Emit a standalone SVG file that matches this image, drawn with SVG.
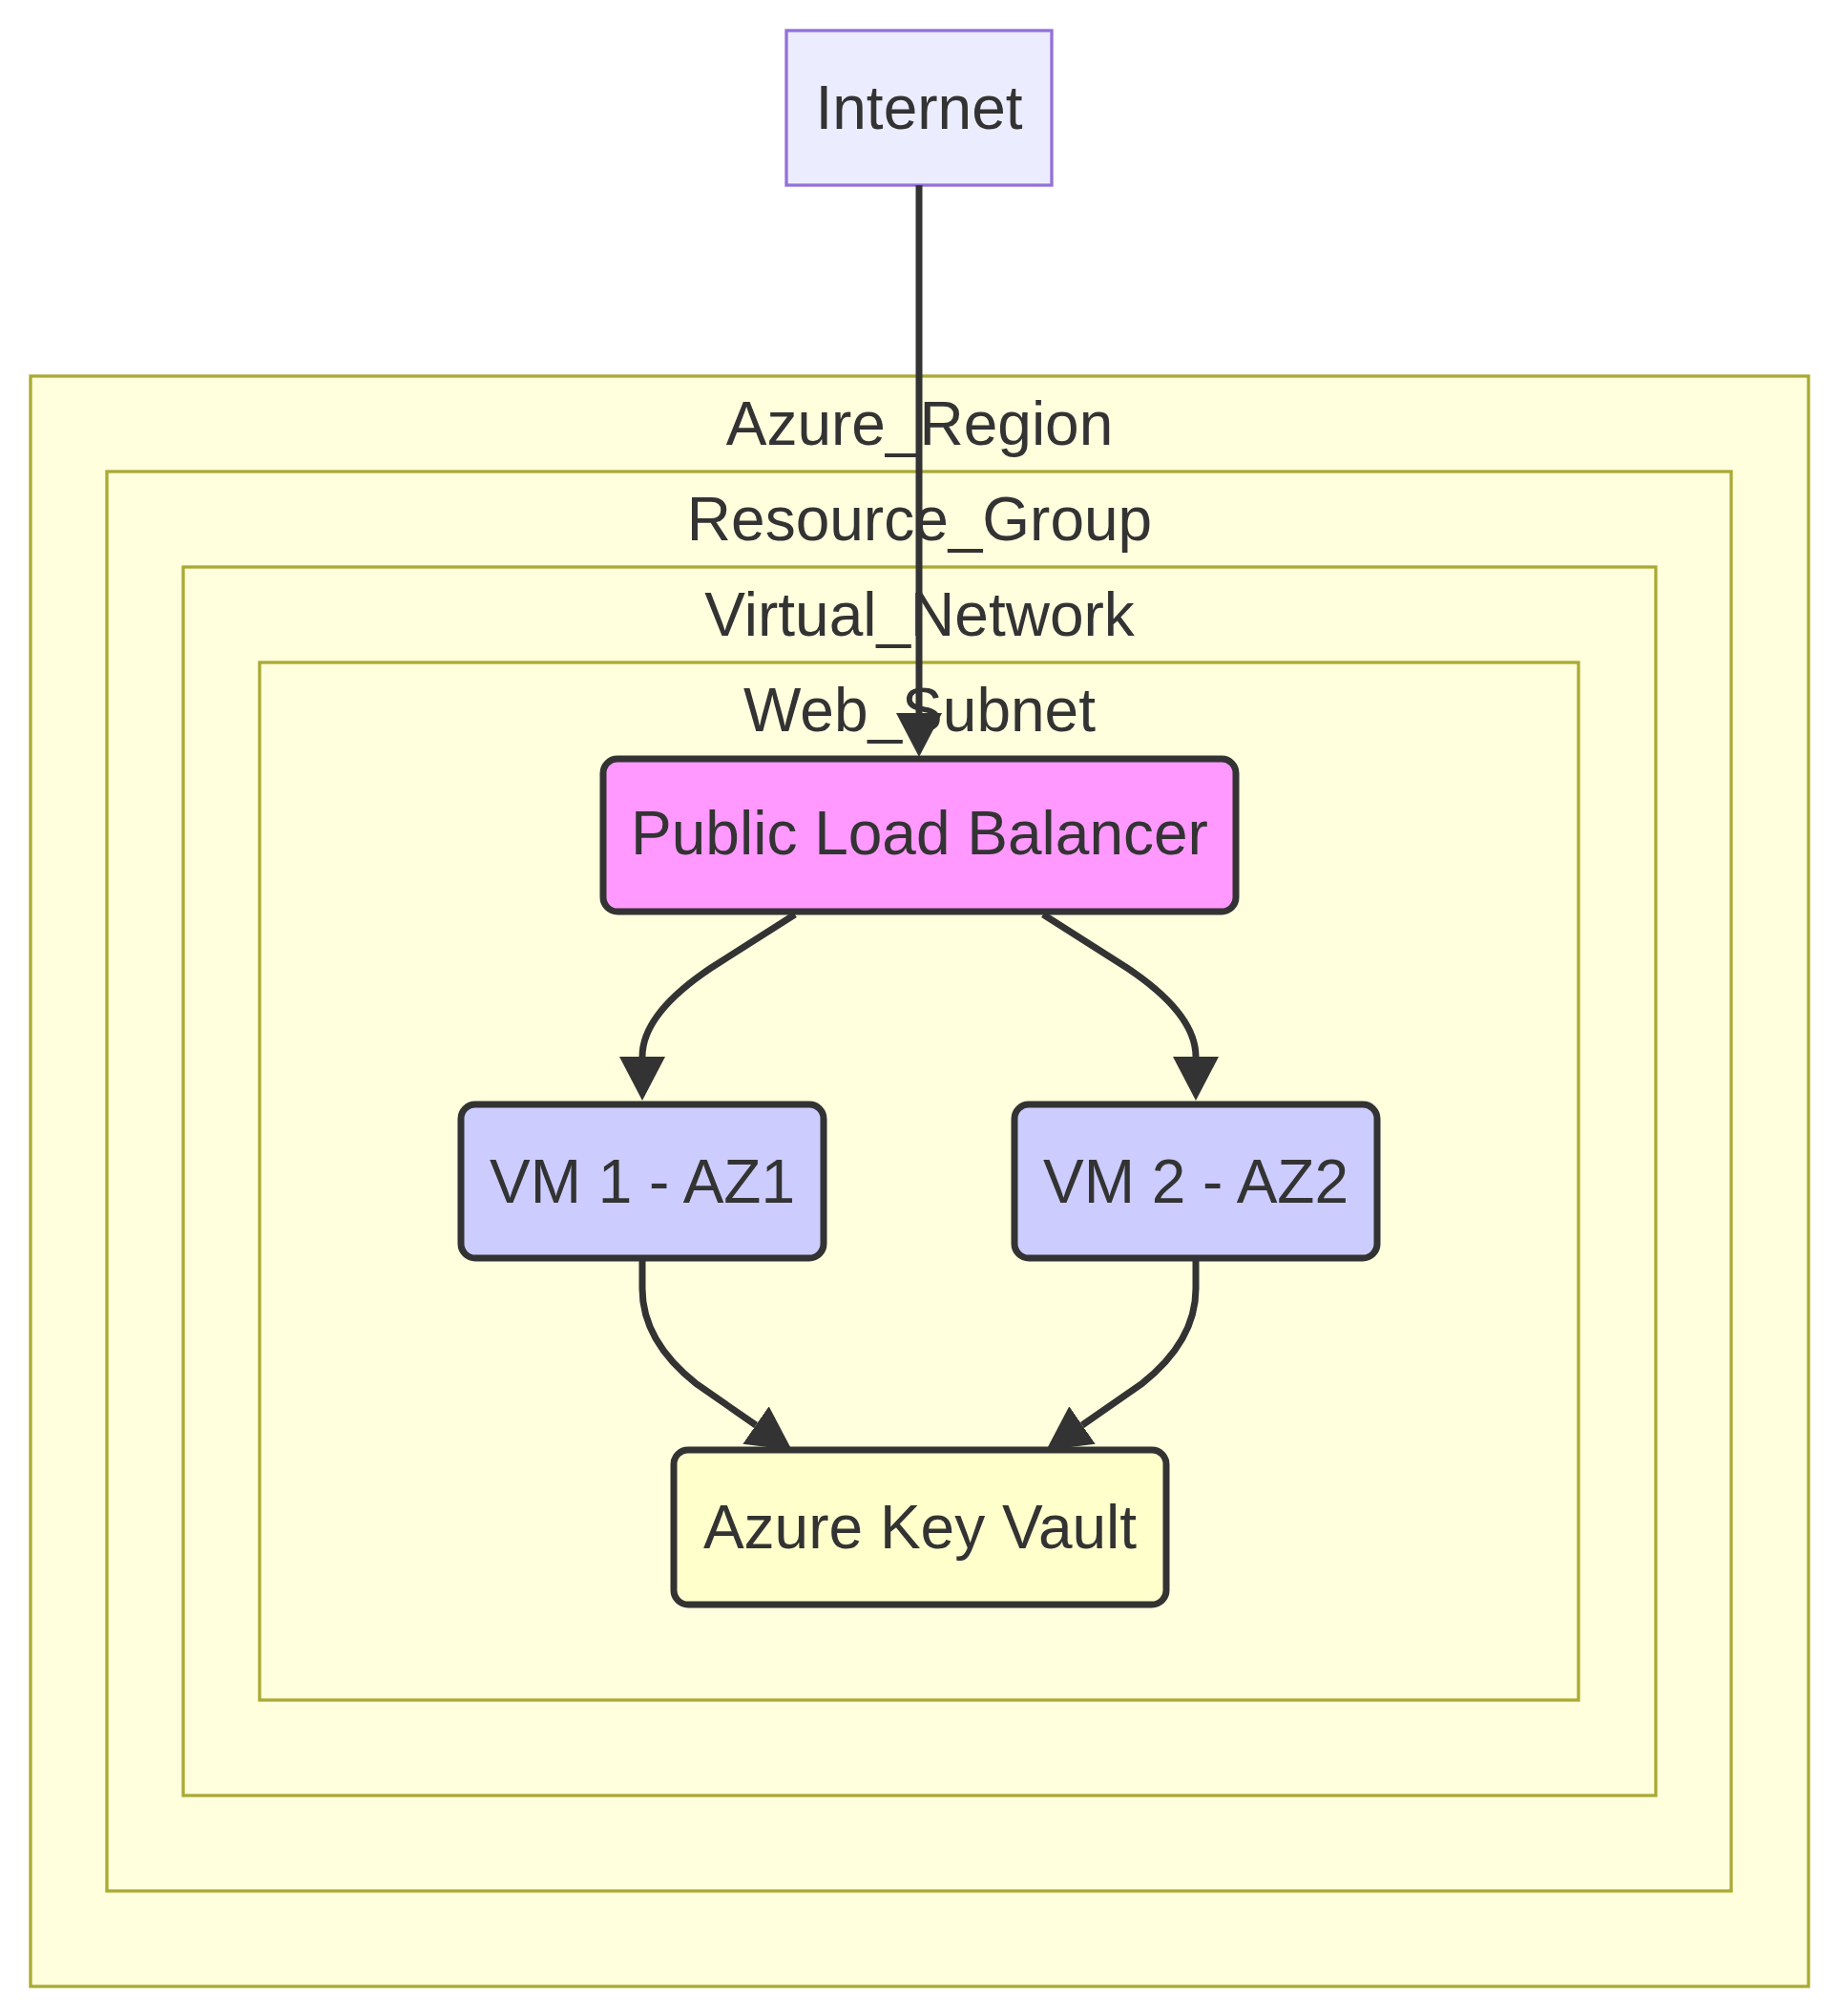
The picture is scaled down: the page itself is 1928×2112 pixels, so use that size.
<svg xmlns="http://www.w3.org/2000/svg" width="1928" height="2112" viewBox="0 0 1928 2112">
<style>
  .cluster rect { fill: #ffffde; stroke: #aaaa33; stroke-width: 3.3; }
  .lbl { font-family: "Liberation Sans", Arial, sans-serif; font-size: 64px; fill: #333333; text-anchor: middle; }
  .node rect { stroke: #333333; stroke-width: 7; }
  .edge { fill: none; stroke: #333333; stroke-width: 7; marker-end: url(#arrow); }
</style>
<defs>
  <marker id="arrow" viewBox="0 0 46 48" refX="0" refY="24" markerWidth="46" markerHeight="48" markerUnits="userSpaceOnUse" orient="auto">
    <path d="M0,0 L46,24 L0,48 z" fill="#333333"/>
  </marker>
</defs>
<rect width="1928" height="2112" fill="#ffffff"/>
<g id="Azure_Region" class="cluster">
  <rect x="32" y="394" width="1863" height="1687"/>
  <text class="lbl" x="963.5" y="466">Azure_Region</text>
</g>
<g id="Resource_Group" class="cluster">
  <rect x="112" y="494" width="1702" height="1487"/>
  <text class="lbl" x="963.5" y="566">Resource_Group</text>
</g>
<g id="Virtual_Network" class="cluster">
  <rect x="192" y="594" width="1543" height="1287"/>
  <text class="lbl" x="963.5" y="666">Virtual_Network</text>
</g>
<g id="Web_Subnet" class="cluster">
  <rect x="272" y="694" width="1382" height="1087"/>
  <text class="lbl" x="963.5" y="766">Web_Subnet</text>
</g>
<g id="Internet">
  <rect x="824" y="32" width="278" height="162" fill="#ececff" stroke="#9370db" stroke-width="3.3"/>
  <text class="lbl" x="963" y="135">Internet</text>
</g>
<g id="connectors">
  <path class="edge" d="M963,194 L963,747"/>
  <path class="edge" d="M833,958 L745,1014 Q673,1062 673,1107"/>
  <path class="edge" d="M1093,958 L1181,1014 Q1253,1062 1253,1107"/>
  <path class="edge" d="M673,1320 L673,1350 Q673,1405 730,1450 L792,1493"/>
  <path class="edge" d="M1253,1320 L1253,1350 Q1253,1405 1196,1450 L1134,1493"/>
</g>
<g id="LB" class="node">
  <rect x="632" y="795" width="663" height="160" rx="15" ry="15" fill="#ff99ff"/>
  <text class="lbl" x="963.5" y="895">Public Load Balancer</text>
</g>
<g id="VM1" class="node">
  <rect x="483" y="1157" width="380" height="161" rx="15" ry="15" fill="#ccccff"/>
  <text class="lbl" x="673" y="1260">VM 1 - AZ1</text>
</g>
<g id="VM2" class="node">
  <rect x="1063" y="1157" width="380" height="161" rx="15" ry="15" fill="#ccccff"/>
  <text class="lbl" x="1253" y="1260">VM 2 - AZ2</text>
</g>
<g id="KV" class="node">
  <rect x="706" y="1519" width="516" height="162" rx="15" ry="15" fill="#ffffcc"/>
  <text class="lbl" x="964" y="1622">Azure Key Vault</text>
</g>
</svg>
